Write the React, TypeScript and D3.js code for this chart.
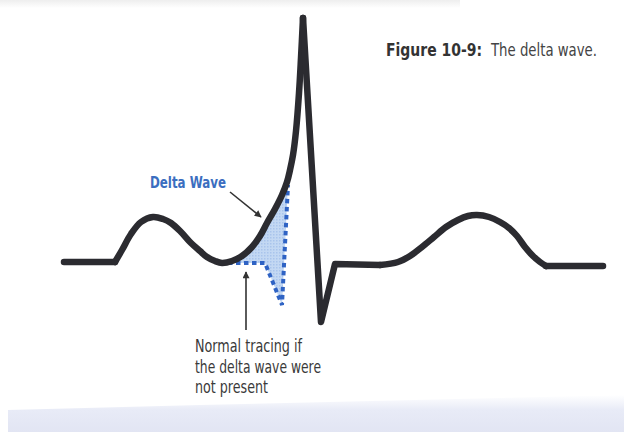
import React from "react";
import * as d3 from "d3";

// ---- Data (time in ms, amplitude in mV) ----
const baselineStart: [number, number][] = [
  [0, 0.01],
  [102, 0.01],
];
const pWave: [number, number][] = [
  [102, 0.01], [116, 0.13], [134, 0.29], [154, 0.41], [178, 0.46], [198, 0.44],
  [214, 0.4], [234, 0.31], [254, 0.2], [272, 0.12], [286, 0.06], [302, 0.02], [316, 0.0],
];
const deltaUpstroke: [number, number][] = [
  [336, 0.02], [356, 0.07], [376, 0.16], [392, 0.27], [406, 0.4], [422, 0.54],
  [436, 0.68], [446, 0.81], [452, 0.93], [458, 1.08], [464, 1.32], [470, 1.7],
  [474, 2.05], [478, 2.45],
];
const qrsDown: [number, number][] = [
  [478, 2.45], [514, -0.59], [542, -0.01], [632, -0.02],
];
const tWave: [number, number][] = [
  [632, -0.02], [668, 0.01], [692, 0.07], [716, 0.16], [740, 0.26], [764, 0.36],
  [788, 0.43], [808, 0.47], [826, 0.48], [850, 0.46], [872, 0.41], [890, 0.35],
  [906, 0.27], [922, 0.16], [938, 0.07], [952, 0.01], [964, -0.03],
];
const baselineEnd: [number, number][] = [
  [964, -0.03],
  [1078, -0.03],
];
const normalTracing: [number, number][] = [
  [328, 0.0], [402, 0.0], [436, -0.42], [448, 0.78],
];
const deltaArrow: [number, number][] = [[332, 0.71], [394, 0.46]];
const normalArrow: [number, number][] = [[364, -0.67], [364, -0.09]];

const titleBold = "Figure 10-9:";
const titleText = "The delta wave.";
const deltaLabel = "Delta Wave";
const normalLabel = ["Normal tracing if", "the delta wave were", "not present"];

const W = 624;
const H = 432;

export default function App() {
  const x = d3.scaleLinear().domain([0, 1078]).range([64, 603]);
  const y = d3.scaleLinear().domain([0, 1]).range([263, 163]);

  const smooth = d3
    .line<[number, number]>()
    .x((d) => x(d[0]))
    .y((d) => y(d[1]))
    .curve(d3.curveCatmullRom.alpha(0.5));
  const straight = d3
    .line<[number, number]>()
    .x((d) => x(d[0]))
    .y((d) => y(d[1]));

  const pqr = [...pWave, ...deltaUpstroke];

  const curvePart = pqr.filter((d) => d[0] > 328 && d[0] <= 446);
  const curveStart: [number, number] = [328, 0.0];
  const areaCurve = smooth([curveStart, ...curvePart, normalTracing[3]]) || "";
  const back = [normalTracing[2], normalTracing[1], normalTracing[0]]
    .map((d) => `L${x(d[0])},${y(d[1])}`)
    .join("");
  const areaPath = areaCurve + back + "Z";

  const font = "'Liberation Sans Narrow', 'DejaVu Sans Condensed', 'Roboto', Arial, sans-serif";
  const black = "#2b2b30";

  return (
    <svg
      width={W}
      height={H}
      viewBox={`0 0 ${W} ${H}`}
      style={{ position: "absolute", left: 0, top: 0, background: "#ffffff" }}
    >
      <defs>
        <linearGradient id="band" x1="0" y1="0" x2="0" y2="1">
          <stop offset="0" stopColor="#ffffff" />
          <stop offset="0.4" stopColor="#e8ebf7" />
          <stop offset="1" stopColor="#e2e5f3" />
        </linearGradient>
        <linearGradient id="topband" x1="0" y1="0" x2="0" y2="1">
          <stop offset="0" stopColor="#eeeeee" />
          <stop offset="1" stopColor="#ffffff" />
        </linearGradient>
        <pattern id="hatch" width="3" height="3" patternUnits="userSpaceOnUse">
          <rect width="3" height="3" fill="#c3d8f3" />
          <rect width="1.5" height="1.5" fill="#a9c4ec" />
        </pattern>
        <marker id="arrow" viewBox="0 0 10 10" refX="9" refY="5" markerWidth="9" markerHeight="7" orient="auto" markerUnits="userSpaceOnUse">
          <path d="M0,0 L10,5 L0,10 Z" fill="#333333" />
        </marker>
      </defs>

      <rect x={0} y={0} width={460} height={8} fill="url(#topband)" />
      <path d={`M8,410 L200,405 L624,395 L624,432 L8,432 Z`} fill="url(#band)" />

      <path d={areaPath} fill="url(#hatch)" stroke="none" />

      <path
        d={straight(normalTracing) || ""}
        fill="none"
        stroke="#2f63c4"
        strokeWidth={4}
        strokeDasharray="4.5 3.5"
      />

      {[
        { d: straight(baselineStart) },
        { d: smooth(pqr) },
        { d: straight(qrsDown) },
        { d: smooth(tWave) },
        { d: straight(baselineEnd) },
      ].map((p, i) => (
        <path
          key={i}
          d={p.d || ""}
          fill="none"
          stroke={black}
          strokeWidth={6.5}
          strokeLinejoin="round"
          strokeLinecap="round"
        />
      ))}

      <line
        x1={x(deltaArrow[0][0])}
        y1={y(deltaArrow[0][1])}
        x2={x(deltaArrow[1][0])}
        y2={y(deltaArrow[1][1])}
        stroke="#333333"
        strokeWidth={1.6}
        markerEnd="url(#arrow)"
      />
      <line
        x1={x(normalArrow[0][0])}
        y1={y(normalArrow[0][1])}
        x2={x(normalArrow[1][0])}
        y2={y(normalArrow[1][1])}
        stroke="#333333"
        strokeWidth={1.6}
        markerEnd="url(#arrow)"
      />

      <text x={150} y={188} fontFamily={font} fontWeight="bold" fontSize={16.5} fill="#3b6ec0" textLength={76} lengthAdjust="spacingAndGlyphs">
        {deltaLabel}
      </text>
      <text x={386} y={56} fontFamily={font} fontWeight="bold" fontSize={18} fill="#333333" textLength={96} lengthAdjust="spacingAndGlyphs">
        {titleBold}
      </text>
      <text x={491} y={56} fontFamily={font} fontSize={18} fill="#444444" textLength={106} lengthAdjust="spacingAndGlyphs">
        {titleText}
      </text>
      {normalLabel.map((t, i) => (
        <text
          key={i}
          x={195}
          y={352 + i * 20.5}
          fontFamily={font}
          fontSize={17.5}
          fill="#3a3a3a"
          textLength={[107, 126, 73][i]}
          lengthAdjust="spacingAndGlyphs"
        >
          {t}
        </text>
      ))}
    </svg>
  );
}
